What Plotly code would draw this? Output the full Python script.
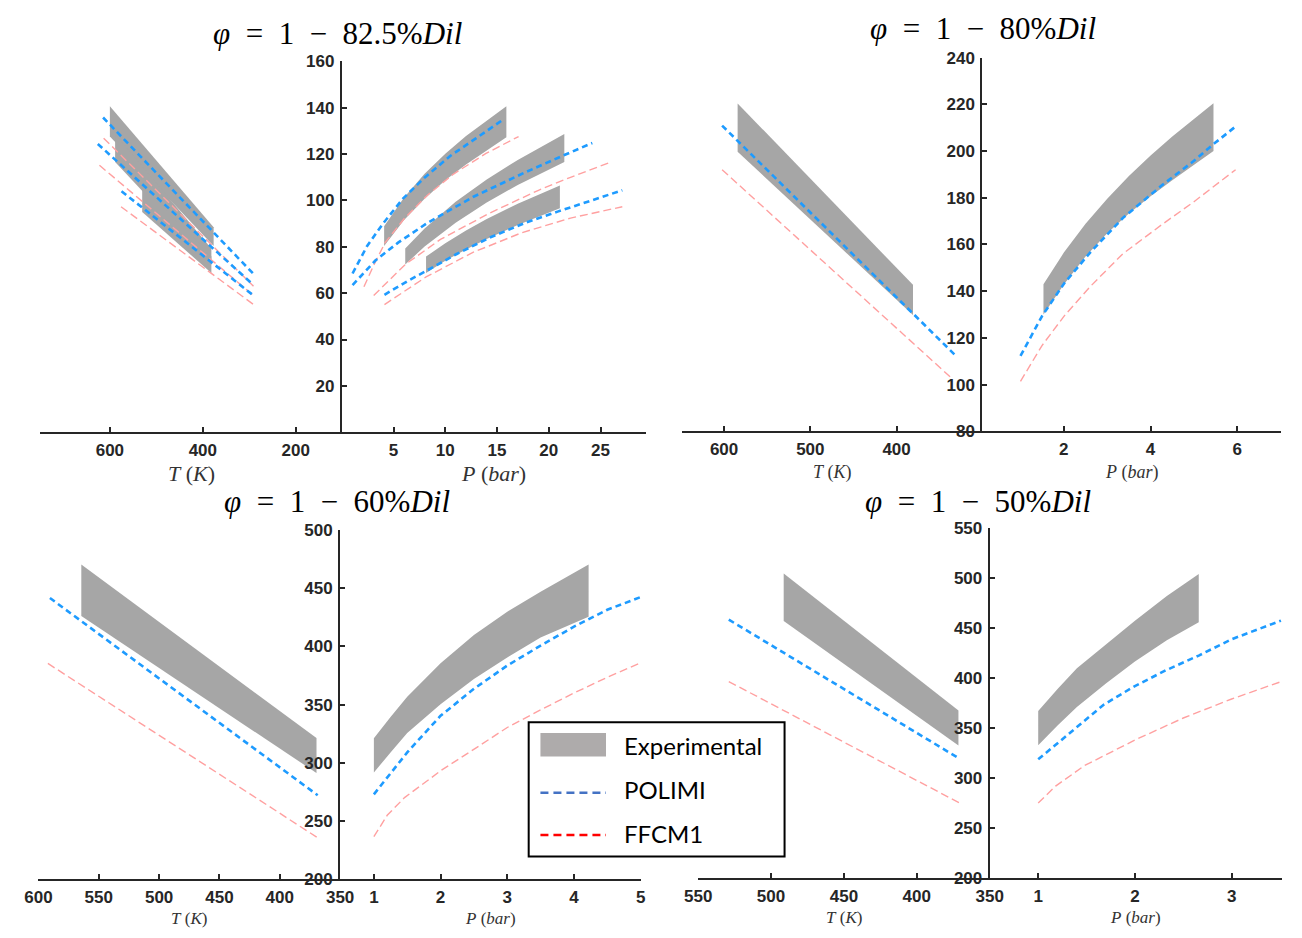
import plotly.graph_objects as go

W, H = 1302, 938

# ---------------- Panel 1 : phi = 1 - 82.5% Dil ----------------
# experimental bands vs pressure (right)
p1_b1_P = [4.09, 6, 8, 10, 12, 14, 15.9]
p1_b1_top = [88.9, 101.2, 111.5, 120.2, 127.8, 134.5, 140.7]
p1_b1_bot = [80.4, 91.5, 100.8, 108.7, 115.5, 121.7, 127.3]
p1_b2_P = [6.13, 8, 11, 14, 17, 21.5]
p1_b2_top = [79.3, 87.9, 99.4, 109.0, 117.5, 128.7]
p1_b2_bot = [72.4, 80.1, 90.4, 99.1, 106.7, 116.6]
p1_b3_P = [8.14, 10, 12, 14, 17, 21.07]
p1_b3_top = [75.8, 81.6, 87.1, 92.0, 98.6, 106.5]
p1_b3_bot = [68.7, 74.0, 78.9, 83.4, 89.4, 96.6]
# experimental bands vs temperature (left)
p1_L1_T = [600, 376.8]
p1_L1_top = [140.7, 88.5]
p1_L1_bot = [127.6, 80.4]
p1_L2_T = [588.8, 381.7]
p1_L2_top = [128.7, 79.3]
p1_L2_bot = [116.6, 72.4]
p1_L3_T = [530.5, 381.7]
p1_L3_top = [106.5, 75.8]
p1_L3_bot = [95.0, 68.7]
# POLIMI vs P
p1_pol_a_P = [1.04, 2.45, 4.03, 5.91, 7.96, 10.47, 12.99, 15.66]
p1_pol_a = [68.5, 80.4, 90.3, 100.8, 109.7, 119.2, 126.9, 135.1]
p1_pol_b_P = [1.04, 3.24, 5.44, 8.27, 12.67, 17.7, 21.5, 24.2]
p1_pol_b = [63.5, 74.1, 81.8, 90.3, 101.5, 112.1, 119.6, 124.8]
p1_pol_c_P = [4.12, 6.38, 8.27, 11.1, 14.25, 17.7, 20.85, 27.1]
p1_pol_c = [59.3, 65.3, 69.9, 76.9, 83.9, 90.3, 95.2, 104.4]
# FFCM1 vs P
p1_ffc_a_P = [2.14, 3.08, 4.18, 6.07, 8.27, 10.79, 13.93, 17.08]
p1_ffc_a = [62.8, 72.0, 81.8, 92.4, 102.3, 111.4, 120.3, 127.6]
p1_ffc_b_P = [3.08, 6.13, 9.53, 14.25, 19.0, 22.1, 26.0]
p1_ffc_b = [59.0, 72.4, 83.2, 94.5, 104.4, 110.0, 116.6]
p1_ffc_c_P = [4.12, 8.14, 12.67, 17.39, 22.1, 27.1]
p1_ffc_c = [55.1, 67.0, 77.6, 86.1, 92.4, 97.3]
# POLIMI / FFCM1 vs T
p1_pol_a_T = [614.7, 290]
p1_pol_a_Tv = [135.8, 68.1]
p1_pol_b_T = [626, 291]
p1_pol_b_Tv = [124.4, 63.5]
p1_pol_c_T = [575, 291]
p1_pol_c_Tv = [104.0, 59.0]
p1_ffc_a_T = [613.5, 291]
p1_ffc_a_Tv = [126.9, 63.0]
p1_ffc_b_T = [622.5, 291]
p1_ffc_b_Tv = [115.2, 59.0]
p1_ffc_c_T = [576, 291]
p1_ffc_c_Tv = [97.3, 55.1]

# ---------------- Panel 2 : phi = 1 - 80% Dil ----------------
p2_exp_T = [584.3, 381]
p2_exp_Ttop = [220.4, 142.7]
p2_exp_Tbot = [199.7, 129.8]
p2_exp_P = [1.53, 2, 2.5, 3, 3.5, 4, 4.5, 5, 5.45]
p2_exp_top = [143.0, 156.5, 168.9, 179.6, 189.3, 198.1, 206.2, 213.8, 220.5]
p2_exp_bot = [130.0, 142.8, 154.8, 164.8, 173.3, 180.6, 187.5, 194.2, 200.0]
p2_pol_P = [1.0, 1.5, 2.01, 2.61, 3.36, 4.26, 5.0, 5.44, 5.96]
p2_pol = [112.3, 129.4, 143.4, 156.6, 171.3, 185.3, 195.8, 202.8, 210.5]
p2_ffc_P = [1.0, 1.5, 2.01, 2.61, 3.36, 4.26, 5.0, 5.96]
p2_ffc = [101.4, 116.8, 129.4, 142.0, 156.0, 168.5, 178.3, 192.0]
p2_pol_T = [602.3, 330.4]
p2_pol_Tv = [210.9, 112.0]
p2_ffc_T = [602.3, 337.6]
p2_ffc_Tv = [192.0, 103.2]

# ---------------- Panel 3 : phi = 1 - 60% Dil ----------------
p3_exp_T = [564.5, 369.6]
p3_exp_Ttop = [470.5, 321.3]
p3_exp_Tbot = [426.1, 291.3]
p3_exp_P = [1.0, 1.25, 1.5, 2.0, 2.5, 3.0, 3.5, 4.22]
p3_exp_top = [321.1, 339.5, 356.7, 385.5, 409.8, 429.8, 447.0, 470.4]
p3_exp_bot = [291.7, 309.0, 325.6, 350.4, 372.0, 390.6, 407.6, 425.6]
p3_pol_P = [1.0, 1.25, 1.5, 2.0, 2.5, 3.0, 3.5, 4.0, 4.5, 5.0]
p3_pol = [273.0, 291.5, 309.0, 340.5, 363.6, 383.6, 400.7, 417.0, 431.5, 442.4]
p3_ffc_P = [1.0, 1.2, 1.46, 2.02, 2.51, 3.0, 3.5, 4.0, 4.5, 5.0]
p3_ffc = [236.6, 255.0, 270.2, 294.0, 312.0, 330.4, 345.5, 360.0, 373.5, 385.9]
p3_pol_T = [590.5, 368.6]
p3_pol_Tv = [441.6, 272.2]
p3_ffc_T = [592.2, 368.6]
p3_ffc_Tv = [385.4, 235.7]

# ---------------- Panel 4 : phi = 1 - 50% Dil ----------------
p4_exp_T = [491.3, 371.4]
p4_exp_Ttop = [504.5, 367.6]
p4_exp_Tbot = [457.0, 332.6]
p4_exp_P = [1.0, 1.2, 1.4, 1.7, 2.0, 2.33, 2.66]
p4_exp_top = [367.0, 389.0, 409.6, 433.8, 457.3, 481.8, 503.9]
p4_exp_bot = [332.7, 352.5, 371.0, 394.5, 416.5, 437.7, 455.7]
p4_pol_P = [1.0, 1.34, 1.68, 1.99, 2.32, 2.66, 3.0, 3.51]
p4_pol = [318.7, 345.8, 373.5, 391.4, 407.7, 422.4, 438.7, 457.3]
p4_ffc_P = [1.0, 1.18, 1.48, 2.0, 2.5, 3.0, 3.51]
p4_ffc = [275.0, 292.0, 312.5, 338.0, 360.0, 379.0, 396.3]
p4_pol_T = [529, 370.5]
p4_pol_Tv = [458.3, 319.2]
p4_ffc_T = [529, 370.5]
p4_ffc_Tv = [396.4, 275.0]

# tick labels / titles
titles = ["82.5%", "80%", "60%", "50%"]
p1_Tticks = [600, 400, 200]
p1_Pticks = [5, 10, 15, 20, 25]
p1_yticks = [20, 40, 60, 80, 100, 120, 140, 160]
p2_Tticks = [600, 500, 400]
p2_Pticks = [2, 4, 6]
p2_yticks = [80, 100, 120, 140, 160, 180, 200, 220, 240]
p3_Tticks = [600, 550, 500, 450, 400, 350]
p3_Pticks = [1, 2, 3, 4, 5]
p3_yticks = [200, 250, 300, 350, 400, 450, 500]
p4_Tticks = [550, 500, 450, 400, 350]
p4_Pticks = [1, 2, 3]
p4_yticks = [200, 250, 300, 350, 400, 450, 500, 550]

# ---------------- styling / layout (pixel geometry) ----------------
GRAY = "#a6a6a6"
BLUE = "#1e9bff"
PINK = "#ffa0a0"
AXC = "#262626"

panels = [
    dict(xl=27, xm=335, xr=646, yt=53.5, yb=432, Tr=[749.5, 101], Pr=[0, 29.4], yr=[0, 160],
         Tt=p1_Tticks, Pt=p1_Pticks, yt_=p1_yticks, tx=331, ty=25, ats=22, aty=474),
    dict(xl=682.5, xm=989.6, xr=1295, yt=49.6, yb=431, Tr=[649, 300.6], Pr=[0.12, 7.01], yr=[80, 240],
         Tt=p2_Tticks, Pt=p2_Pticks, yt_=p2_yticks, tx=990, ty=20, ats=18, aty=473),
    dict(xl=25, xm=333.3, xr=640.4, yt=531.8, yb=888.3, Tr=[600, 350], Pr=[0.494, 5.0], yr=[200, 500],
         Tt=p3_Tticks, Pt=p3_Pticks, yt_=p3_yticks, tx=330, ty=503, ats=17, aty=928),
    dict(xl=699.2, xm=997.1, xr=1295.8, yt=529.6, yb=887.1, Tr=[550, 350], Pr=[0.498, 3.52], yr=[200, 550],
         Tt=p4_Tticks, Pt=p4_Pticks, yt_=p4_yticks, tx=985, ty=503, ats=17, aty=927),
]

fig = go.Figure()


def aid(n):
    return "" if n == 1 else str(n)


def add_band(xs_top, top, xs_bot, bot, n):
    fig.add_trace(go.Scatter(
        x=list(xs_top) + list(xs_bot)[::-1], y=list(top) + list(bot)[::-1],
        fill="toself", fillcolor=GRAY, mode="lines", line=dict(width=0, color=GRAY),
        hoverinfo="skip", showlegend=False, xaxis="x" + aid(n), yaxis="y" + aid(n)))


def add_line(xs, ys, n, kind):
    if kind == "pol":
        ln = dict(color=BLUE, width=2.6, dash="6px,4px")
    else:
        ln = dict(color=PINK, width=1.4, dash="8px,4px")
    fig.add_trace(go.Scatter(x=xs, y=ys, mode="lines", line=ln, hoverinfo="skip",
                             showlegend=False, xaxis="x" + aid(n), yaxis="y" + aid(n)))


# panel 1 (axes 1 = T, 2 = P)
for T, t, b in [(p1_L1_T, p1_L1_top, p1_L1_bot), (p1_L2_T, p1_L2_top, p1_L2_bot),
                (p1_L3_T, p1_L3_top, p1_L3_bot)]:
    add_band(T, t, T, b, 1)
for P, t, b in [(p1_b1_P, p1_b1_top, p1_b1_bot), (p1_b2_P, p1_b2_top, p1_b2_bot),
                (p1_b3_P, p1_b3_top, p1_b3_bot)]:
    add_band(P, t, P, b, 2)
for xs, ys in [(p1_ffc_a_T, p1_ffc_a_Tv), (p1_ffc_b_T, p1_ffc_b_Tv), (p1_ffc_c_T, p1_ffc_c_Tv)]:
    add_line(xs, ys, 1, "ffc")
for xs, ys in [(p1_pol_a_T, p1_pol_a_Tv), (p1_pol_b_T, p1_pol_b_Tv), (p1_pol_c_T, p1_pol_c_Tv)]:
    add_line(xs, ys, 1, "pol")
for xs, ys in [(p1_ffc_a_P, p1_ffc_a), (p1_ffc_b_P, p1_ffc_b), (p1_ffc_c_P, p1_ffc_c)]:
    add_line(xs, ys, 2, "ffc")
for xs, ys in [(p1_pol_a_P, p1_pol_a), (p1_pol_b_P, p1_pol_b), (p1_pol_c_P, p1_pol_c)]:
    add_line(xs, ys, 2, "pol")

# panels 2-4
others = [
    (3, p2_exp_T, p2_exp_Ttop, p2_exp_Tbot, p2_exp_P, p2_exp_top, p2_exp_bot,
     p2_pol_T, p2_pol_Tv, p2_ffc_T, p2_ffc_Tv, p2_pol_P, p2_pol, p2_ffc_P, p2_ffc),
    (5, p3_exp_T, p3_exp_Ttop, p3_exp_Tbot, p3_exp_P, p3_exp_top, p3_exp_bot,
     p3_pol_T, p3_pol_Tv, p3_ffc_T, p3_ffc_Tv, p3_pol_P, p3_pol, p3_ffc_P, p3_ffc),
    (7, p4_exp_T, p4_exp_Ttop, p4_exp_Tbot, p4_exp_P, p4_exp_top, p4_exp_bot,
     p4_pol_T, p4_pol_Tv, p4_ffc_T, p4_ffc_Tv, p4_pol_P, p4_pol, p4_ffc_P, p4_ffc),
]
for (n, eT, eTt, eTb, eP, ePt, ePb, pT, pTv, fT, fTv, pP, pv, fP, fv) in others:
    add_band(eT, eTt, eT, eTb, n)
    add_band(eP, ePt, eP, ePb, n + 1)
    add_line(fT, fTv, n, "ffc")
    add_line(pT, pTv, n, "pol")
    add_line(fP, fv, n + 1, "ffc")
    add_line(pP, pv, n + 1, "pol")

tickfont = dict(family="Liberation Sans, Arial, sans-serif", size=17, color=AXC, weight="bold")
common = dict(showgrid=False, zeroline=False, showline=True, linecolor=AXC, linewidth=2,
              ticks="inside", ticklen=5, tickwidth=1.5, tickcolor=AXC, tickfont=tickfont,
              fixedrange=True)

layout = {}
annotations = []
for i, p in enumerate(panels):
    nL, nR = 2 * i + 1, 2 * i + 2
    ydom = [1 - p["yb"] / H, 1 - p["yt"] / H]
    layout["xaxis" + aid(nL)] = dict(domain=[p["xl"] / W, p["xm"] / W], range=p["Tr"],
                                      anchor="y" + aid(nL), tickvals=p["Tt"],
                                      ticklabelstandoff=1, **common)
    layout["yaxis" + aid(nL)] = dict(domain=ydom, range=p["yr"], anchor="x" + aid(nL),
                                      visible=False, fixedrange=True)
    layout["xaxis" + aid(nR)] = dict(domain=[p["xm"] / W, p["xr"] / W], range=p["Pr"],
                                      anchor="y" + aid(nR), tickvals=p["Pt"],
                                      ticklabelstandoff=1, **common)
    layout["yaxis" + aid(nR)] = dict(domain=ydom, range=p["yr"], anchor="x" + aid(nR),
                                      side="left", tickvals=p["yt_"], ticklabelstandoff=2,
                                      **common)
    # panel title
    annotations.append(dict(
        text="<i>φ</i>\u2002=\u20021\u2002−\u2002" + titles[i] + "<i>Dil</i>",
        x=p["tx"] / W, y=1 - p["ty"] / H, xref="paper", yref="paper",
        xanchor="center", yanchor="middle", showarrow=False,
        font=dict(family="Liberation Serif, serif", size=31, color="black")))
    # axis titles
    af = dict(family="Liberation Serif, serif", size=p["ats"], color="#333333")
    annotations.append(dict(text="<i>T</i> (<i>K</i>)", x=(p["xl"] + p["xm"]) / 2 / W,
                            y=1 - p["aty"] / H, xref="paper", yref="paper",
                            xanchor="center", yanchor="middle", showarrow=False, font=af))
    annotations.append(dict(text="<i>P</i> (<i>bar</i>)", x=(p["xm"] + p["xr"]) / 2 / W,
                            y=1 - p["aty"] / H, xref="paper", yref="paper",
                            xanchor="center", yanchor="middle", showarrow=False, font=af))

# inset legend box (drawn as in the picture)
legend_labels = ["Experimental", "POLIMI", "FFCM1"]
lx0, ly0, lx1, ly1 = 526, 728, 787.5, 865
key_x0, key_x1 = 538, 605
rows_y = [751, 800, 843]
shapes = [
    dict(type="rect", xref="paper", yref="paper", x0=lx0 / W, x1=lx1 / W,
         y0=1 - ly1 / H, y1=1 - ly0 / H, fillcolor="white", line=dict(color="black", width=2),
         layer="above"),
    dict(type="rect", xref="paper", yref="paper", x0=key_x0 / W, x1=key_x1 / W,
         y0=1 - (rows_y[0] + 12) / H, y1=1 - (rows_y[0] - 12) / H, fillcolor="#aeabab",
         line=dict(width=0), layer="above"),
    dict(type="line", xref="paper", yref="paper", x0=key_x0 / W, x1=key_x1 / W,
         y0=1 - rows_y[1] / H, y1=1 - rows_y[1] / H,
         line=dict(color="#4472c4", width=2.5, dash="8px,5px"), layer="above"),
    dict(type="line", xref="paper", yref="paper", x0=key_x0 / W, x1=key_x1 / W,
         y0=1 - rows_y[2] / H, y1=1 - rows_y[2] / H,
         line=dict(color="#ff0000", width=2.5, dash="8px,5px"), layer="above"),
]
for lab, yy in zip(legend_labels, [752, 797, 842]):
    annotations.append(dict(text=lab, x=621 / W, y=1 - yy / H, xref="paper", yref="paper",
                            xanchor="left", yanchor="middle", showarrow=False,
                            font=dict(family="Lato, Open Sans, sans-serif", size=24,
                                      color="black")))

fig.update_layout(
    width=W, height=H, autosize=False,
    margin=dict(l=0, r=0, t=0, b=0),
    paper_bgcolor="white", plot_bgcolor="rgba(0,0,0,0)",
    showlegend=False, annotations=annotations, shapes=shapes,
    **layout)

fig.write_html("out.html", config={"displayModeBar": False},
               post_script="document.body.style.margin='0px';document.body.style.overflow='hidden';")
